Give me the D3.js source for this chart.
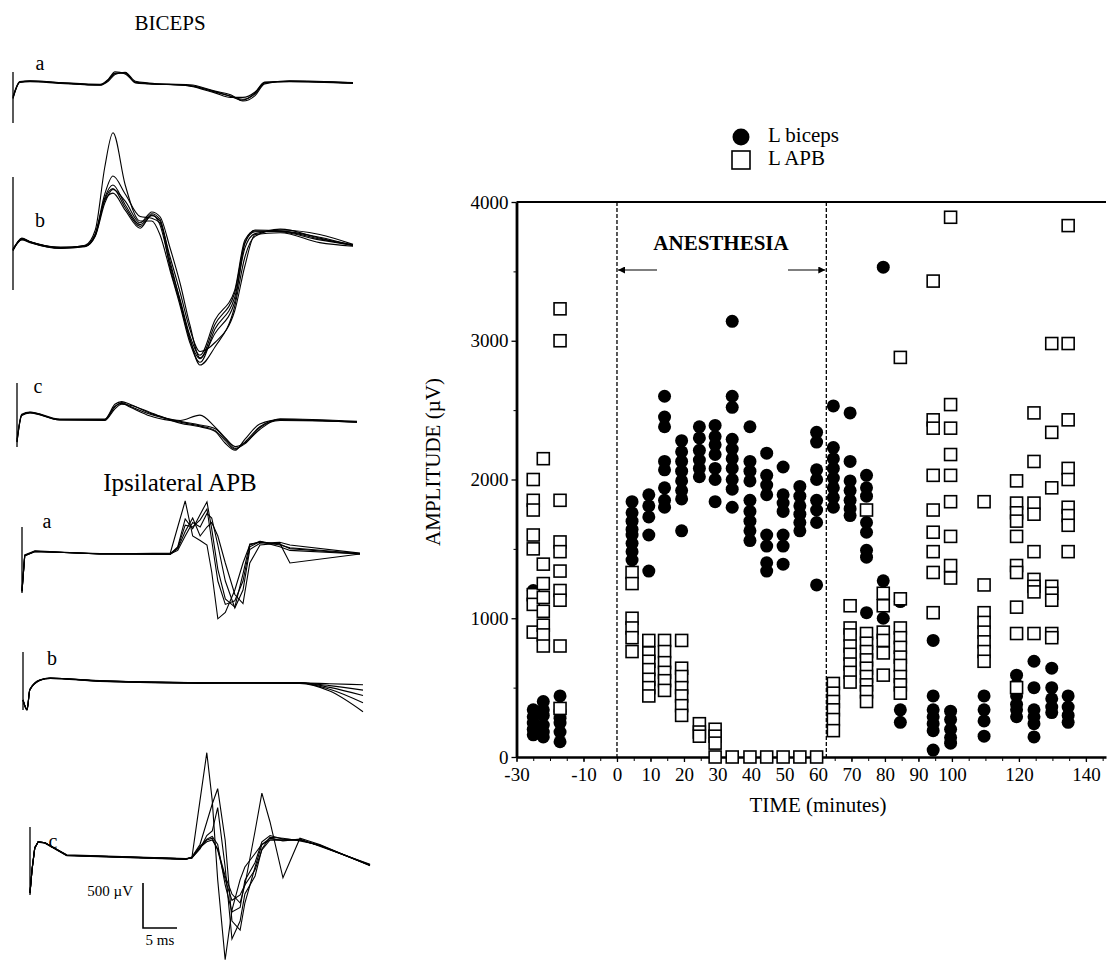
<!DOCTYPE html>
<html lang="en">
<head>
<meta charset="utf-8">
<title>Biceps and APB responses</title>
<style>
  body { margin: 0; background: #fff; }
  svg text { font-family: "Liberation Serif", "Times New Roman", serif; fill: #000; }
  .trace { fill: none; stroke: #000; stroke-width: 1.1; }
  .axis text { font-family: "Liberation Serif", "Times New Roman", serif; font-size: 19px; }
</style>
</head>
<body>
<svg id="fig" width="1108" height="961"></svg>
<script src="https://d3js.org/d3.v7.min.js"></script>
<script>
// ---------- amplitude vs time (right plot) ----------
const bicepsTimes = [-25, -22, -17, 4.5, 9.5, 14.2, 19.3, 24.6, 29.3, 34.4, 39.7, 44.7, 49.6, 54.6, 59.6,
                     64.6, 69.6, 74.5, 79.5, 84.6, 94.4, 99.6, 109.6, 119.3, 124.5, 129.8, 134.7];
const bicepsValues = [
  [1200, 340, 290, 245, 200, 160],
  [400, 340, 300, 230, 180, 145],
  [440, 330, 280, 245, 180, 110],
  [1840, 1760, 1700, 1640, 1600, 1540, 1480, 1420],
  [1890, 1810, 1730, 1600, 1340],
  [2600, 2450, 2380, 2130, 2070, 1940, 1850, 1800],
  [2280, 2200, 2130, 2060, 1990, 1920, 1860, 1630],
  [2380, 2300, 2210, 2140, 2080, 2020],
  [2390, 2310, 2250, 2180, 2080, 2000, 1840],
  [3140, 2600, 2520, 2290, 2220, 2150, 2080, 2000, 1930, 1800],
  [2380, 2130, 2060, 1990, 1850, 1770, 1700, 1630, 1560],
  [2190, 2030, 1960, 1890, 1600, 1520, 1400, 1340],
  [2090, 1890, 1830, 1770, 1600, 1520, 1390],
  [1950, 1880, 1810, 1750, 1690, 1630],
  [2340, 2270, 2070, 2000, 1850, 1780, 1690, 1240],
  [2530, 2230, 2150, 2080, 2010, 1940, 1870, 1800],
  [2480, 2130, 1990, 1920, 1850, 1790, 1740],
  [2030, 1940, 1880, 1690, 1620, 1490, 1440, 1040],
  [3530, 1270, 1000],
  [1120, 340, 250],
  [840, 440, 340, 290, 240, 190, 50],
  [330, 270, 200, 140, 100],
  [440, 340, 260, 150],
  [590, 520, 440, 380, 340, 290],
  [690, 500, 340, 290, 240, 145],
  [640, 500, 420, 360, 320],
  [440, 360, 300, 250]
];
const apbTimes = [-25, -22, -17, 4.5, 9.5, 14.2, 19.3, 24.6, 29.3, 34.4, 39.7, 44.7, 49.6, 54.6, 59.6,
                  64.6, 69.6, 74.5, 79.5, 84.6, 94.4, 99.6, 109.6, 119.3, 124.5, 129.8, 134.7];
const apbValues = [
  [2000, 1850, 1780, 1600, 1500, 1170, 1100, 900],
  [2150, 1390, 1250, 1150, 1050, 950, 880, 800],
  [3230, 3000, 1850, 1550, 1480, 1340, 1200, 1130, 800, 350],
  [1330, 1250, 1000, 930, 860, 760],
  [840, 750, 690, 630, 560, 500, 440],
  [840, 760, 680, 610, 550, 480],
  [840, 640, 580, 500, 440, 370, 300],
  [240, 180, 150],
  [200, 150, 100, 0],
  [0], [0], [0], [0], [0], [0],
  [530, 460, 400, 340, 270, 190],
  [1090, 930, 880, 800, 740, 670, 610, 540],
  [1780, 890, 820, 760, 700, 640, 580, 520, 470, 400],
  [1180, 1090, 900, 840, 750, 590],
  [2880, 1140, 930, 860, 790, 720, 660, 580, 520, 460],
  [3430, 2430, 2370, 2030, 1780, 1620, 1480, 1330, 1040],
  [3890, 2540, 2370, 2180, 2030, 1840, 1590, 1380, 1290],
  [1840, 1240, 1040, 970, 900, 830, 760, 690],
  [1990, 1830, 1760, 1700, 1590, 1380, 1330, 1080, 890, 500],
  [2480, 2130, 1830, 1750, 1480, 1280, 1230, 1190, 890],
  [2980, 2340, 1940, 1230, 1180, 1130, 890, 860],
  [3830, 2980, 2430, 2080, 2000, 1800, 1740, 1670, 1480]
];
const xTickLabels = [-30, -10, 0, 10, 20, 30, 40, 50, 60, 70, 80, 90, 100, 120, 140];
const xMinorTicks = d3.range(-30, 146, 5);
const yTickLabels = [0, 1000, 2000, 3000, 4000];
const yMinorTicks = [500, 1500, 2500, 3500];
const anesthesiaStart = 0, anesthesiaEnd = 62.5;

// ---------- EMG traces (left panels): time in ms, amplitude in µV ----------
const bicATimes = [0, 1, 2.5, 7, 12.8, 14, 15, 16.5, 18, 20, 26, 29.7, 32, 33.8, 35.6, 37, 40.7, 50];
const bicATraces = [
  [-170, 10, 20, 0, -20, 30, 110, 110, 0, -10, -30, -100, -145, -180, -120, 0, 20, 0],
  [-150, 15, 25, 5, -15, 40, 125, 100, 10, -5, -20, -90, -130, -200, -140, -10, 25, 5],
  [-170, 5, 15, -5, -25, 20, 95, 120, 20, 0, -35, -110, -160, -160, -100, 10, 15, -5],
  [-160, 12, 22, 2, -22, 35, 105, 115, 5, -8, -28, -95, -150, -190, -110, 5, 18, 2]
];
const bicBTimes = [0, 1.3, 2.5, 7, 10.6, 12.1, 13.5, 14.7, 16.5, 18.7, 20.4, 21.6, 23.1, 24.6, 26, 27.5, 29.7, 32.6, 34.1, 35.6, 39.3, 45.1, 50];
const bicBTraces = [
  [-20, 100, 70, 0, 20, 140, 530, 610, 420, 220, 370, 260, -190, -580, -970, -1190, -800, -470, 90, 190, 180, 90, 30],
  [-20, 90, 60, 0, 30, 200, 900, 1280, 700, 300, 300, 150, -250, -650, -1050, -1270, -900, -550, 0, 160, 200, 150, 40],
  [-30, 110, 70, 10, 20, 160, 600, 800, 600, 350, 330, 280, -100, -500, -900, -1150, -1050, -700, -200, 150, 170, 60, 20],
  [-10, 100, 65, -5, 15, 130, 500, 650, 520, 280, 400, 350, 0, -400, -850, -1220, -950, -600, 50, 200, 190, 120, 30],
  [-20, 95, 70, 5, 25, 150, 560, 700, 480, 260, 380, 320, -150, -600, -1000, -1300, -1100, -650, -100, 130, 210, 110, 25],
  [-25, 105, 68, 2, 22, 145, 540, 660, 450, 240, 360, 300, -220, -620, -1020, -1230, -850, -500, 60, 180, 185, 100, 35]
];
const bicCTimes = [0, 0.7, 1.9, 6.3, 12.9, 14.4, 15.4, 16.6, 19.6, 24, 26.9, 29.1, 30.6, 32.1, 33.5, 35.7, 38.7, 50];
const bicCTraces = [
  [-290, 10, 40, -40, -40, 110, 140, 100, 0, -70, -110, -160, -270, -370, -290, -120, -40, -70],
  [-260, 20, 45, -35, -35, 130, 160, 130, 30, -50, 10, -120, -240, -340, -300, -150, -30, -60],
  [-290, 5, 35, -45, -50, 80, 130, 120, 40, -80, -120, -170, -300, -380, -260, -90, -40, -70],
  [-280, 12, 38, -42, -45, 100, 150, 110, 20, -60, -100, -140, -250, -360, -310, -130, -50, -65]
];
const apbATimes = [0, 0.4, 1.9, 11.5, 21.8, 22.9, 24, 25.1, 26.2, 27.2, 27.9, 28.8, 29.9, 31.3, 32.5, 33.5, 35, 37.9, 39.4, 49.7];
const apbATraces = [
  [-410, -20, 30, 0, 0, 80, 390, 280, 440, 580, 280, -170, -500, -590, -220, 110, 130, 110, 60, 0],
  [-400, -10, 35, 0, 10, 300, 590, 200, 150, 100, -200, -720, -650, -400, -100, 100, 140, 80, 40, 0],
  [-410, -20, 25, 5, 0, 40, 200, 350, 300, 450, 400, 100, -300, -600, -400, 50, 120, 130, 100, 10],
  [-420, -15, 30, 0, -5, 60, 250, 400, 200, 300, 350, 200, -100, -450, -550, -100, 100, 120, -100, 0],
  [-410, -18, 28, 2, 0, 70, 320, 300, 380, 500, 150, -300, -560, -520, -300, 80, 140, 100, 70, 5]
];
const apbBTimes = [0, 0.6, 1, 2.5, 4, 11.3, 26, 40.7, 45.1, 50];
const apbBTraces = [
  [-200, -310, -90, 20, 45, 10, -10, -10, -20, -30],
  [-200, -310, -80, 25, 40, 5, -15, -5, -60, -150],
  [-200, -310, -90, 20, 45, 10, -5, -15, -100, -330],
  [-200, -300, -85, 20, 40, 15, -10, -10, -80, -230],
  [-200, -305, -88, 22, 42, 12, -8, -12, -40, -90]
];
const apbCTimes = [0, 0.3, 0.7, 1.2, 2.2, 5.4, 22.9, 23.8, 25, 26, 26.8, 27.6, 28.7, 29.7, 30.9, 31.6, 33.1, 34.1, 35.3, 37.2, 39.7, 42.6, 50];
const apbCTraces = [
  [-390, -130, 110, 180, 170, 30, -10, 0, 110, 200, 220, 90, -240, -470, -410, -300, -130, 90, 200, 200, 200, 140, -80],
  [-390, -130, 110, 180, 170, 30, -10, 0, 640, 1170, 640, -240, -1130, -580, -240, -100, 50, 150, 200, 200, 200, 140, -80],
  [-380, -120, 120, 175, 165, 25, -15, 10, 150, 400, 600, 770, 200, -700, -800, -500, -100, 150, 220, 190, 210, 130, -70],
  [-390, -135, 105, 180, 170, 30, -10, 5, 120, 180, 200, 100, -200, -400, -500, -300, 300, 720, 400, -220, 220, 150, -85],
  [-385, -130, 115, 180, 170, 35, -5, 0, 100, 250, 300, 560, -100, -900, -700, -400, -200, 100, 230, 220, 190, 145, -80],
  [-390, -130, 110, 180, 168, 28, -12, 5, 130, 210, 240, 150, -300, -600, -550, -250, -50, 180, 250, 210, 200, 140, -75]
];

const svg = d3.select("#fig");
svg.append("rect").attr("width", 1108).attr("height", 961).attr("fill", "#fff");

// ---------- left: traces ----------
const tx = d3.scaleLinear().domain([0, 50]).range([0, 340]);
const ay = d3.scaleLinear().domain([0, 500]).range([0, -45]);

const panels = [
  {label: "a", times: bicATimes, traces: bicATraces, x0: 13, base: 83, bar: [72, 123], lx: 40, ly: 65, curve: d3.curveMonotoneX},
  {label: "b", times: bicBTimes, traces: bicBTraces, x0: 13, base: 248, bar: [177, 290], lx: 40, ly: 222, curve: d3.curveMonotoneX},
  {label: "c", times: bicCTimes, traces: bicCTraces, x0: 17, base: 416, bar: [383, 447], lx: 38, ly: 388, curve: d3.curveMonotoneX},
  {label: "a", times: apbATimes, traces: apbATraces, x0: 22, base: 554, bar: [527, 593], lx: 47, ly: 523, curve: d3.curveLinear},
  {label: "b", times: apbBTimes, traces: apbBTraces, x0: 23, base: 682, bar: [652, 710], lx: 52, ly: 660, curve: d3.curveMonotoneX},
  {label: "c", times: apbCTimes, traces: apbCTraces, x0: 30, base: 858, bar: [827, 895], lx: 53, ly: 843, curve: d3.curveLinear}
];

const left = svg.append("g");
panels.forEach(p => {
  const g = left.append("g");
  g.append("line")
    .attr("x1", p.x0).attr("x2", p.x0)
    .attr("y1", p.bar[0]).attr("y2", p.bar[1])
    .attr("stroke", "#000").attr("stroke-width", 1.3);
  const line = d3.line()
    .x((d, i) => p.x0 + tx(p.times[i]))
    .y(d => p.base + ay(d))
    .curve(p.curve);
  g.selectAll("path.trace")
    .data(p.traces)
    .enter()
    .append("path")
    .attr("class", "trace")
    .attr("d", line);
  g.append("text")
    .attr("x", p.lx).attr("y", p.ly)
    .attr("text-anchor", "middle")
    .attr("dominant-baseline", "middle")
    .attr("font-size", 20)
    .text(p.label);
});

left.append("text").attr("x", 170).attr("y", 25)
  .attr("text-anchor", "middle").attr("dominant-baseline", "middle")
  .attr("font-size", 21).text("BICEPS");
left.append("text").attr("x", 180).attr("y", 485)
  .attr("text-anchor", "middle").attr("dominant-baseline", "middle")
  .attr("font-size", 25).text("Ipsilateral APB");

// calibration bar
left.append("path")
  .attr("d", "M143,883 V928 H177")
  .attr("fill", "none").attr("stroke", "#000").attr("stroke-width", 1.6);
left.append("text").attr("x", 133).attr("y", 893)
  .attr("text-anchor", "end").attr("dominant-baseline", "middle")
  .attr("font-size", 15).text("500 \u00b5V");
left.append("text").attr("x", 160).attr("y", 942)
  .attr("text-anchor", "middle").attr("dominant-baseline", "middle")
  .attr("font-size", 15).text("5 ms");

// ---------- right: scatter ----------
const x = d3.scaleLinear().domain([-30, 146]).range([516.5, 1106]);
const y = d3.scaleLinear().domain([0, 4000]).range([757, 202]);

const plot = svg.append("g");

// minor ticks
plot.append("g").attr("class", "axis")
  .attr("transform", `translate(0,${y(0)})`)
  .call(d3.axisBottom(x).tickValues(xMinorTicks).tickSize(4).tickFormat(""))
  .call(g => g.select(".domain").remove());
plot.append("g").attr("class", "axis")
  .attr("transform", `translate(${x(-30)},0)`)
  .call(d3.axisLeft(y).tickValues(yMinorTicks).tickSize(3).tickFormat(""))
  .call(g => g.select(".domain").remove());

const xAxis = plot.append("g").attr("class", "axis")
  .attr("transform", `translate(0,${y(0)})`)
  .call(d3.axisBottom(x).tickValues(xTickLabels).tickSize(5).tickSizeOuter(0).tickPadding(6).tickFormat(d => d));
xAxis.select(".domain").attr("stroke-width", 2.5);
xAxis.selectAll(".tick line").attr("stroke-width", 1.3);

const yAxis = plot.append("g").attr("class", "axis")
  .attr("transform", `translate(${x(-30)},0)`)
  .call(d3.axisLeft(y).tickValues(yTickLabels).tickSize(5).tickSizeOuter(0).tickPadding(3).tickFormat(d => d));
yAxis.select(".domain").attr("stroke-width", 2.8);
yAxis.selectAll(".tick line").attr("stroke-width", 1.3);

// top frame
plot.append("line")
  .attr("x1", x(-30)).attr("x2", x(146))
  .attr("y1", y(4000)).attr("y2", y(4000))
  .attr("stroke", "#000").attr("stroke-width", 2.2);

// anesthesia boundaries
[anesthesiaStart, anesthesiaEnd].forEach(t => {
  plot.append("line")
    .attr("x1", x(t)).attr("x2", x(t))
    .attr("y1", y(4000)).attr("y2", y(0))
    .attr("stroke", "#000").attr("stroke-width", 1.3)
    .attr("stroke-dasharray", "4,2");
});

svg.append("defs").append("marker")
  .attr("id", "arrow").attr("viewBox", "0 0 10 10")
  .attr("refX", 10).attr("refY", 5)
  .attr("markerWidth", 12).attr("markerHeight", 7)
  .attr("markerUnits", "userSpaceOnUse")
  .attr("orient", "auto")
  .append("path").attr("d", "M0,0 L10,5 L0,10 Z").attr("fill", "#000");

plot.append("line")
  .attr("x1", 657).attr("x2", x(anesthesiaStart) + 1)
  .attr("y1", 270).attr("y2", 270)
  .attr("stroke", "#000").attr("stroke-width", 1.2).attr("marker-end", "url(#arrow)");
plot.append("line")
  .attr("x1", 788).attr("x2", x(anesthesiaEnd) - 1)
  .attr("y1", 270).attr("y2", 270)
  .attr("stroke", "#000").attr("stroke-width", 1.2).attr("marker-end", "url(#arrow)");
plot.append("text")
  .attr("x", 721).attr("y", 245)
  .attr("text-anchor", "middle").attr("dominant-baseline", "middle")
  .attr("font-size", 21).attr("font-weight", "bold")
  .text("ANESTHESIA");

// points
const bicepsPoints = bicepsTimes.flatMap((t, i) => bicepsValues[i].map(v => ({t, v})));
const apbPoints = apbTimes.flatMap((t, i) => apbValues[i].map(v => ({t, v})));

plot.selectAll("circle.biceps")
  .data(bicepsPoints)
  .enter()
  .append("circle")
  .attr("class", "biceps")
  .attr("cx", d => x(d.t))
  .attr("cy", d => y(d.v))
  .attr("r", 6.5)
  .attr("fill", "#000");

const sq = 12;
plot.selectAll("rect.apb")
  .data(apbPoints)
  .enter()
  .append("rect")
  .attr("class", "apb")
  .attr("x", d => x(d.t) - sq / 2)
  .attr("y", d => y(d.v) - sq / 2)
  .attr("width", sq).attr("height", sq)
  .attr("fill", "#fff").attr("stroke", "#000").attr("stroke-width", 1.6);

// axis labels
plot.append("text")
  .attr("transform", "translate(435,462) rotate(-90)")
  .attr("text-anchor", "middle").attr("dominant-baseline", "middle")
  .attr("font-size", 21)
  .text("AMPLITUDE (\u00b5V)");
plot.append("text")
  .attr("x", 818).attr("y", 807)
  .attr("text-anchor", "middle").attr("dominant-baseline", "middle")
  .attr("font-size", 21)
  .text("TIME (minutes)");

// legend
const legend = plot.append("g").attr("transform", "translate(741,0)");
legend.append("circle").attr("cx", 0).attr("cy", 137).attr("r", 8.5).attr("fill", "#000");
legend.append("rect").attr("x", -9).attr("y", 151).attr("width", 18).attr("height", 18)
  .attr("fill", "#fff").attr("stroke", "#000").attr("stroke-width", 1.6);
legend.append("text").attr("x", 27).attr("y", 137)
  .attr("dominant-baseline", "middle").attr("font-size", 21).text("L biceps");
legend.append("text").attr("x", 27).attr("y", 160)
  .attr("dominant-baseline", "middle").attr("font-size", 21).text("L APB");
</script>
</body>
</html>
